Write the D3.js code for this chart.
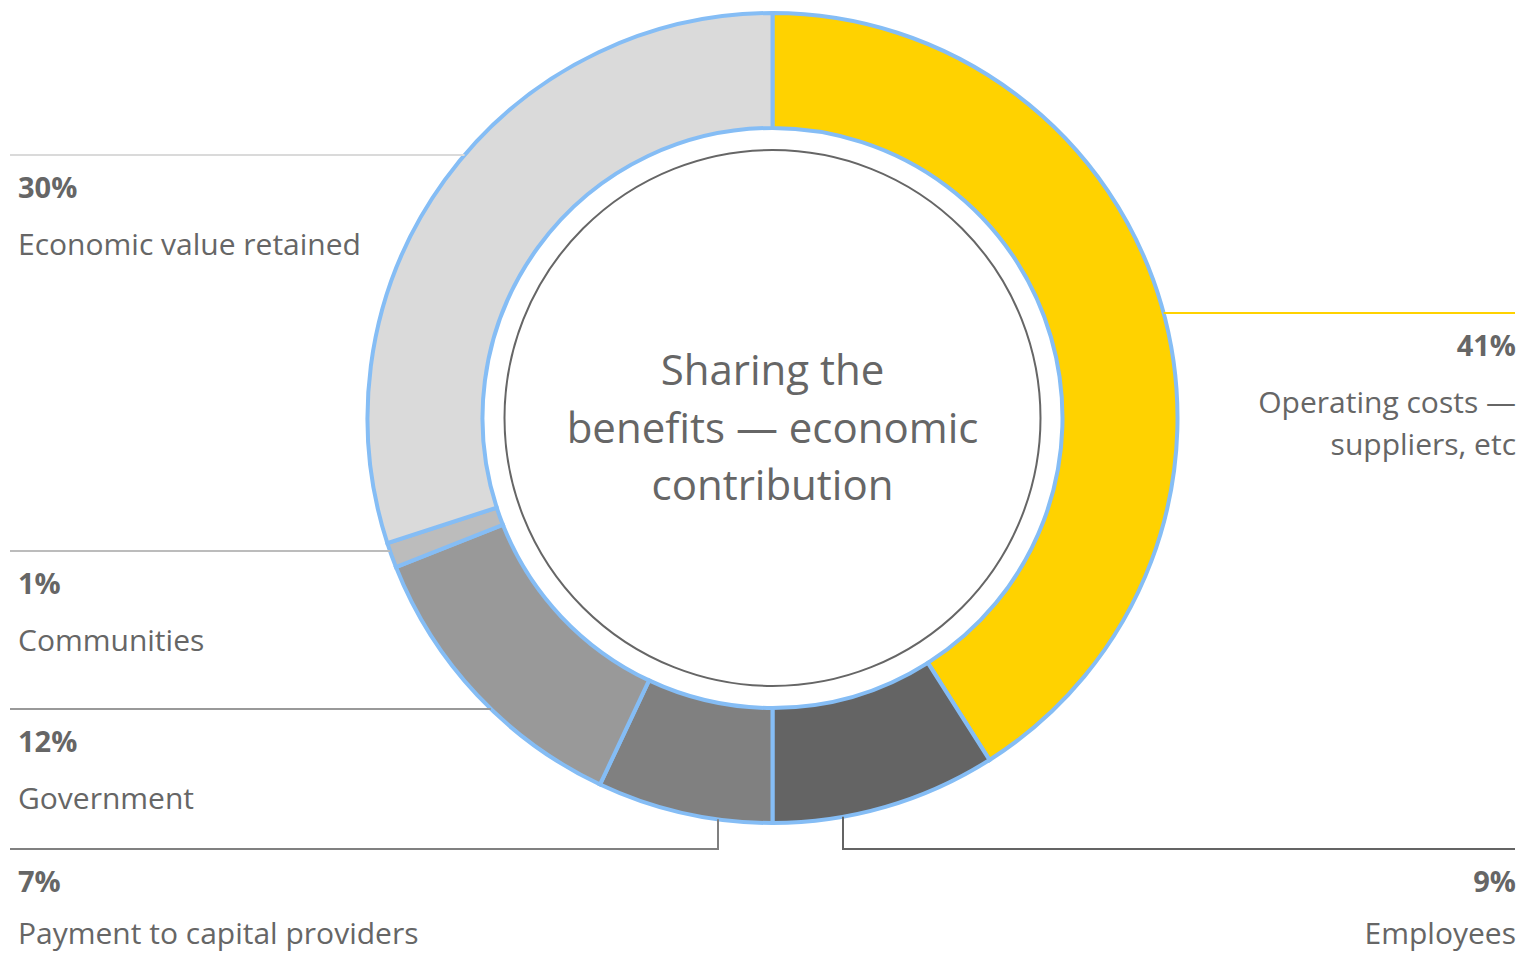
<!DOCTYPE html>
<html>
<head>
<meta charset="utf-8">
<script src="https://cdn.jsdelivr.net/npm/d3@7"></script>
<style>
  body { margin: 0; background: #fff; }
  svg { display: block; font-family: "Open Sans", sans-serif; }
</style>
</head>
<body>
<script>
// Data
const categories = ["Operating costs — suppliers, etc", "Employees", "Payment to capital providers",
                    "Government", "Communities", "Economic value retained"];
const values = [41, 9, 7, 12, 1, 30];
const colors = ["#ffd200", "#646464", "#808080", "#999999", "#bcbcbc", "#dadada"];
const labelLines = [["Operating costs —", "suppliers, etc"], ["Employees"], ["Payment to capital providers"],
                    ["Government"], ["Communities"], ["Economic value retained"]];
const centerTitle = ["Sharing the", "benefits — economic", "contribution"];

// Label placement (layout, not data)
const layout = [
  { side: "right", y: 313 },
  { side: "right", y: 849, dropX: 843 },
  { side: "left", y: 849, dropX: 718 },
  { side: "left", y: 709 },
  { side: "left", y: 551 },
  { side: "left", y: 155 }
];

const width = 1521, height = 955;
const cx = 772.5, cy = 418;
const outerR = 405, innerR = 290, ringR = 268;
const textColor = "#666";

const svg = d3.select("body").append("svg")
  .attr("width", width)
  .attr("height", height);

const data = categories.map((c, i) => ({ name: c, value: values[i], color: colors[i], lines: labelLines[i], lay: layout[i] }));

const pie = d3.pie().sort(null).value(d => d.value);
const arc = d3.arc().innerRadius(innerR).outerRadius(outerR);

const g = svg.append("g").attr("transform", `translate(${cx},${cy})`);

g.selectAll("path.slice")
  .data(pie(data))
  .enter().append("path")
  .attr("class", "slice")
  .attr("d", arc)
  .attr("fill", d => d.data.color)
  .attr("stroke", "#85bdf5")
  .attr("stroke-width", 4);

// inner thin ring
g.append("circle")
  .attr("r", ringR)
  .attr("fill", "none")
  .attr("stroke", "#666")
  .attr("stroke-width", 2);

// center title
g.append("text")
  .attr("text-anchor", "middle")
  .attr("fill", textColor)
  .style("font-size", "42px")
  .selectAll("tspan")
  .data(centerTitle)
  .enter().append("tspan")
  .attr("x", 0)
  .attr("y", (d, i) => -33 + i * 57.5)
  .text(d => d);

// leader lines and labels
data.forEach(d => {
  const L = d.lay;
  const lineG = svg.append("g");
  let pts;
  if (L.dropX !== undefined) {
    const dx = L.dropX - cx;
    const edgeY = cy + Math.sqrt(outerR * outerR - dx * dx);
    const endX = L.side === "left" ? 10 : 1515;
    pts = [[L.dropX, edgeY], [L.dropX, L.y], [endX, L.y]];
  } else {
    const dy = L.y - cy;
    const half = Math.sqrt(outerR * outerR - dy * dy);
    pts = L.side === "left" ? [[10, L.y], [cx - half, L.y]] : [[cx + half, L.y], [1515, L.y]];
  }
  lineG.append("path")
    .attr("d", d3.line()(pts))
    .attr("fill", "none")
    .attr("stroke", d.color)
    .attr("stroke-width", 2);

  const tx = L.side === "left" ? 18 : 1516;
  const anchor = L.side === "left" ? "start" : "end";

  lineG.append("text")
    .attr("x", tx)
    .attr("y", L.y + 43)
    .attr("text-anchor", anchor)
    .attr("fill", textColor)
    .style("font-size", "29px")
    .style("font-weight", "bold")
    .text(d3.format(".0f")(d.value) + "%");

  // keep descenders inside the picture
  lineG.append("text")
    .attr("text-anchor", anchor)
    .attr("fill", textColor)
    .style("font-size", "30px")
    .selectAll("tspan")
    .data(d.lines)
    .enter().append("tspan")
    .attr("x", tx)
    .attr("y", (t, i) => Math.min(L.y + 100 + i * 42, height - 11))
    .text(t => t);
});
</script>
</body>
</html>
